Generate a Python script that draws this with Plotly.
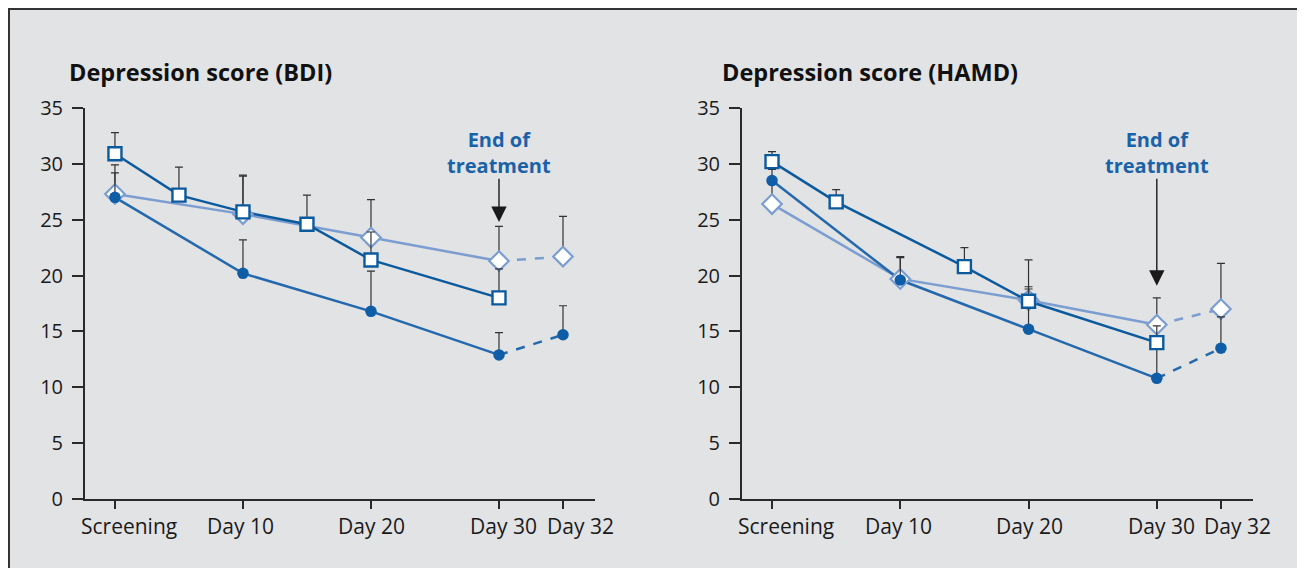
import plotly.graph_objects as go

# ---------------- data ----------------
tick_labels = ["Screening", "Day 10", "Day 20", "Day 30", "Day 32"]
x_days = [0, 10, 20, 30, 35]          # axis positions of Screening, Day 10, Day 20, Day 30, Day 32
x_sq_bdi = [0, 5, 10, 15, 20, 30]
x_sq_hamd = [0, 5, 15, 20, 30]

# BDI panel
bdi_circle = [27.0, 20.2, 16.8, 12.9, 14.7]
bdi_circle_err = [2.2, 3.0, 3.6, 2.0, 2.6]
bdi_diamond = [27.3, 25.5, 23.4, 21.3, 21.7]
bdi_diamond_err = [2.6, 3.4, 3.4, 3.1, 3.6]
bdi_square = [30.9, 27.2, 25.7, 24.6, 21.4, 18.0]
bdi_square_err = [1.9, 2.5, 3.3, 2.6, 2.5, 2.6]

# HAMD panel
hamd_circle = [28.5, 19.6, 15.2, 10.8, 13.5]
hamd_circle_err = [1.0, 2.1, 3.6, 2.7, 2.8]
hamd_diamond = [26.4, 19.7, 17.8, 15.6, 17.0]
hamd_diamond_err = [2.0, 1.9, 3.6, 2.4, 4.1]
hamd_square = [30.2, 26.6, 20.8, 17.7, 14.0]
hamd_square_err = [0.9, 1.1, 1.7, 1.3, 1.5]

titles = ["Depression score (BDI)", "Depression score (HAMD)"]
end_text = "End of<br>treatment"

# ---------------- style ----------------
C_CIRCLE = "#0f5da6"
C_CIRCLE_LINE = "#2468ad"
C_SQUARE = "#0c5a9e"
C_DIAMOND = "#7b9dd0"
ERR_C = "#333333"
BG = "#e2e3e5"
FONT = "Open Sans"

W, H = 1305, 568
OFF = 8  # page body margin offset (screen px -> div px)
fig = go.Figure()


def err(vals):
    return dict(type="data", array=vals, arrayminus=[0] * len(vals), symmetric=False,
                color=ERR_C, thickness=1.2, width=4)


def add_panel(xa, ya, circ, circ_e, diam, diam_e, sq_x, sq, sq_e):
    fig.add_trace(go.Scatter(x=x_days[:4], y=diam[:4], mode="lines", xaxis=xa, yaxis=ya,
                             line=dict(color=C_DIAMOND, width=2.5), showlegend=False, hoverinfo="skip"))
    fig.add_trace(go.Scatter(x=x_days[3:], y=diam[3:], mode="lines", xaxis=xa, yaxis=ya,
                             line=dict(color=C_DIAMOND, width=2.5, dash="dash"), showlegend=False, hoverinfo="skip"))
    fig.add_trace(go.Scatter(x=x_days[:4], y=circ[:4], mode="lines", xaxis=xa, yaxis=ya,
                             line=dict(color=C_CIRCLE_LINE, width=2.5), showlegend=False, hoverinfo="skip"))
    fig.add_trace(go.Scatter(x=x_days[3:], y=circ[3:], mode="lines", xaxis=xa, yaxis=ya,
                             line=dict(color=C_CIRCLE_LINE, width=2.5, dash="dash"), showlegend=False, hoverinfo="skip"))
    fig.add_trace(go.Scatter(x=sq_x, y=sq, mode="lines", xaxis=xa, yaxis=ya,
                             line=dict(color=C_SQUARE, width=2.5), showlegend=False, hoverinfo="skip"))
    fig.add_trace(go.Scatter(x=x_days, y=diam, mode="markers", xaxis=xa, yaxis=ya, error_y=err(diam_e),
                             marker=dict(symbol="diamond", size=15, color="white",
                                         line=dict(color=C_DIAMOND, width=2.2)), showlegend=False))
    fig.add_trace(go.Scatter(x=x_days, y=circ, mode="markers", xaxis=xa, yaxis=ya, error_y=err(circ_e),
                             marker=dict(symbol="circle", size=11.5, color=C_CIRCLE), showlegend=False))
    fig.add_trace(go.Scatter(x=sq_x, y=sq, mode="markers", xaxis=xa, yaxis=ya, error_y=err(sq_e),
                             marker=dict(symbol="square", size=13, color="white",
                                         line=dict(color=C_SQUARE, width=2.4)), showlegend=False))


add_panel("x", "y", bdi_circle, bdi_circle_err, bdi_diamond, bdi_diamond_err, x_sq_bdi, bdi_square, bdi_square_err)
add_panel("x2", "y2", hamd_circle, hamd_circle_err, hamd_diamond, hamd_diamond_err, x_sq_hamd, hamd_square, hamd_square_err)


def px_y(screen_y):
    return (H - (screen_y - OFF)) / H


def px_x(screen_x):
    return (screen_x - OFF) / W


ydom = [px_y(499), px_y(108)]
xdom1 = [px_x(85), px_x(595)]
xdom2 = [px_x(742), px_x(1253)]
xrange_ = [-2.34, 37.5]

xcommon = dict(range=xrange_, tickvals=x_days, ticktext=[""] * 5, showgrid=False, zeroline=False,
               showline=True, linecolor="#2a2a2a", linewidth=2, ticks="outside", ticklen=8,
               tickwidth=2, tickcolor="#2a2a2a", fixedrange=True, automargin=False)
ycommon = dict(range=[0, 35], tickvals=[0, 5, 10, 15, 20, 25, 30, 35], showgrid=False, zeroline=False,
               showline=True, linecolor="#2a2a2a", linewidth=2, ticks="outside", ticklen=11,
               tickwidth=2, tickcolor="#2a2a2a", tickfont=dict(family=FONT, size=20, color="#1a1a1a"),
               ticklabelstandoff=5, fixedrange=True, automargin=False)

fig.update_layout(
    width=W, height=H,
    margin=dict(l=0, r=0, t=0, b=0, autoexpand=False),
    paper_bgcolor="white", plot_bgcolor="rgba(0,0,0,0)",
    xaxis=dict(domain=xdom1, anchor="y", **xcommon),
    yaxis=dict(domain=ydom, anchor="x", **ycommon),
    xaxis2=dict(domain=xdom2, anchor="y2", **xcommon),
    yaxis2=dict(domain=ydom, anchor="x2", **ycommon),
    font=dict(family=FONT),
)

# background panel with top/left frame
fig.add_shape(type="rect", xref="paper", yref="paper", x0=0, x1=1.0, y0=0, y1=1.0,
              fillcolor=BG, line=dict(width=0), layer="below")
fig.add_shape(type="line", xref="paper", yref="paper", x0=0, x1=1.0, y0=(H - 1) / H, y1=(H - 1) / H,
              line=dict(color="#333333", width=2), layer="below")
fig.add_shape(type="line", xref="paper", yref="paper", x0=1 / W, x1=1 / W, y0=0, y1=1.0,
              line=dict(color="#333333", width=2), layer="below")

label_shift = [14, -2, 1, 5, 17]
annotations = []
for xa, title, tx in (("x", titles[0], 67), ("x2", titles[1], 720)):
    annotations.append(dict(text=title, xref="paper", yref="paper", x=px_x(tx), y=px_y(72),
                            xanchor="left", yanchor="middle", showarrow=False,
                            font=dict(family=FONT, size=23.5, color="#111111", weight="bold")))
    for xv, lab, sh in zip(x_days, tick_labels, label_shift):
        annotations.append(dict(text=lab, xref=xa, yref="paper", x=xv, y=px_y(526), xshift=sh,
                                xanchor="center", yanchor="middle", showarrow=False,
                                font=dict(family=FONT, size=21, color="#1a1a1a")))
    annotations.append(dict(text=end_text, xref=xa, yref="paper", x=x_days[3], y=px_y(152),
                            xanchor="center", yanchor="middle", showarrow=False,
                            font=dict(family=FONT, size=20, color="#1a62a8", weight="bold")))

# arrows: tip values per panel
arrow_tips = [24.8, 19.1]
arrow_tail = 28.8
for (xa, ya), tip in zip((("x", "y"), ("x2", "y2")), arrow_tips):
    annotations.append(dict(text="", x=x_days[3], y=tip, xref=xa, yref=ya, ax=x_days[3], ay=arrow_tail,
                            axref=xa, ayref=ya, showarrow=True, arrowhead=2, arrowsize=2.2,
                            arrowwidth=1.4, arrowcolor="#1a1a1a"))

fig.update_layout(annotations=annotations)
fig.write_html("out.html")
